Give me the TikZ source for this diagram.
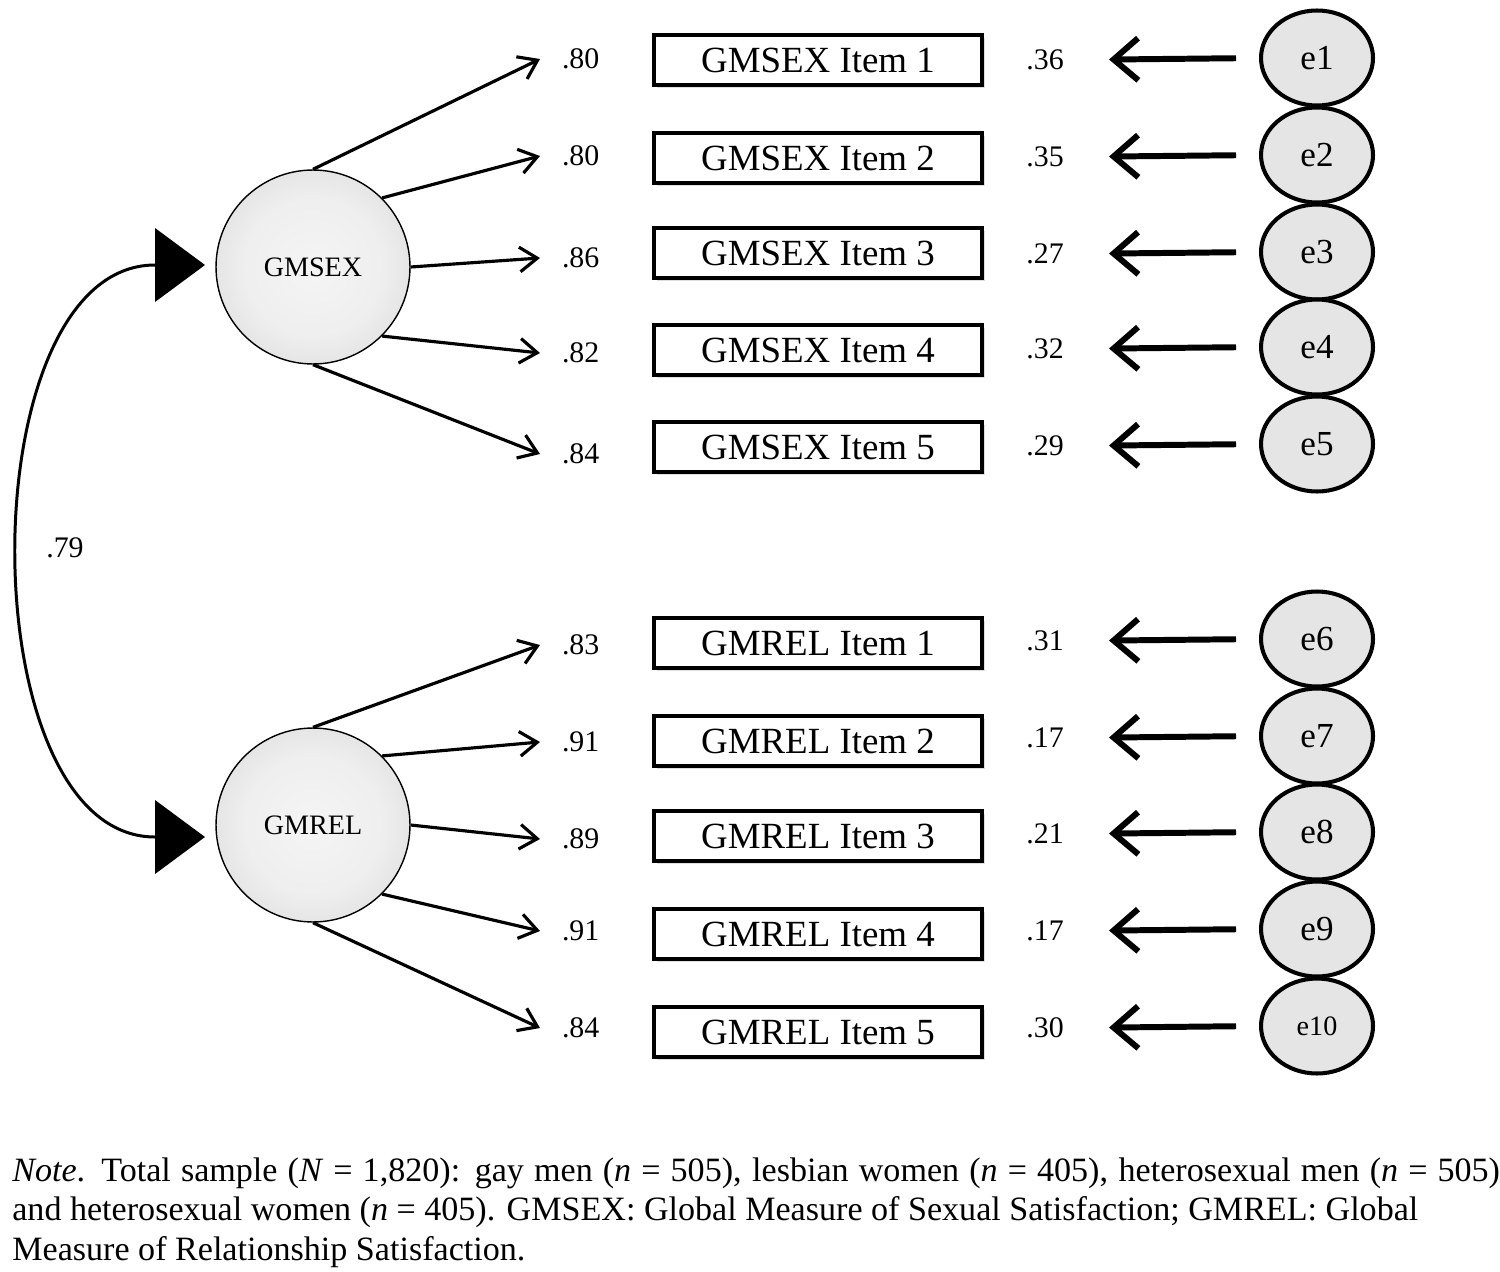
\documentclass[tikz,border=0pt]{standalone}
\usepackage{fontspec}
\setmainfont{Liberation Serif}
\usepackage{tikz}
\usetikzlibrary{positioning}
\usetikzlibrary{shapes.geometric, arrows.meta, shadows}
\pgfdeclareradialshading{latentshade}{\pgfpoint{0bp}{0bp}}{color(0bp)=(gray!8); color(18bp)=(gray!13); color(29bp)=(gray!24); color(35bp)=(gray!42); color(50bp)=(gray!42)}

\begin{document}
\begin{tikzpicture}[x=0.02cm,y=-0.02cm,
        latent/.style = {draw, circle, line width=0.8pt, minimum size=3.88cm, inner sep=0pt, shading=latentshade, font=\fontsize{16}{19}\selectfont},
        item/.style = {draw, line width=2pt, fill=white, minimum width=6.56cm, minimum height=1cm, inner sep=0pt, drop shadow={opacity=0.25, shadow xshift=1.5pt, shadow yshift=-1.5pt}, font=\fontsize{21}{24}\selectfont},
        err/.style = {draw, ellipse, line width=2.3pt, fill=gray!20, minimum width=2.24cm, minimum height=1.9cm, inner sep=0pt, font=\fontsize{20}{24}\selectfont},
        load/.style = {inner sep=0pt, outer xsep=0.44cm, anchor=west, font=\fontsize{17}{20}\selectfont},
        resid/.style = {inner sep=0pt, font=\fontsize{17}{20}\selectfont},
        ld/.style = {-{Straight Barb[length=10pt,width=14pt]}, line width=1.8pt},
        rs/.style = {-{Straight Barb[length=14pt,width=24pt]}, line width=3.4pt, shorten <=0.46cm, shorten >=0.9cm}]
        \useasboundingbox (0,0) rectangle (1500,1271);
        % latent factors
        \node[latent] (sex) at (313,267) {GMSEX};
        \node[latent] (rel) at (313,825) {GMREL};
        % observed items
        \node[item] (s1) at (818,60) {GMSEX Item 1};
        \node[item] (s2) at (818,158) {GMSEX Item 2};
        \node[item] (s3) at (818,253) {GMSEX Item 3};
        \node[item] (s4) at (818,350) {GMSEX Item 4};
        \node[item] (s5) at (818,447) {GMSEX Item 5};
        \node[item] (r1) at (818,643) {GMREL Item 1};
        \node[item] (r2) at (818,741) {GMREL Item 2};
        \node[item] (r3) at (818,836) {GMREL Item 3};
        \node[item] (r4) at (818,934) {GMREL Item 4};
        \node[item] (r5) at (818,1032) {GMREL Item 5};
        % errors
        \node[err] (e1) at (1317,58) {e1};
        \node[err] (e2) at (1317,155) {e2};
        \node[err] (e3) at (1317,252) {e3};
        \node[err] (e4) at (1317,347) {e4};
        \node[err] (e5) at (1317,444) {e5};
        \node[err] (e6) at (1317,639) {e6};
        \node[err] (e7) at (1317,736) {e7};
        \node[err] (e8) at (1317,832) {e8};
        \node[err] (e9) at (1317,929) {e9};
        \node[err,font=\fontsize{16}{19}\selectfont] (e10) at (1317,1026) {e10};
        % loadings
        \node[load] (ls1) at (540,59) {.80};
        \node[load] (ls2) at (540,156) {.80};
        \node[load] (ls3) at (540,258) {.86};
        \node[load] (ls4) at (540,353) {.82};
        \node[load] (ls5) at (540,454) {.84};
        \node[load] (lr1) at (540,645) {.83};
        \node[load] (lr2) at (540,742) {.91};
        \node[load] (lr3) at (540,839) {.89};
        \node[load] (lr4) at (540,931) {.91};
        \node[load] (lr5) at (540,1028) {.84};
        % residual values
        \node[resid] (vs1) at (1045,60) {.36};
        \node[resid] (vs2) at (1045,157) {.35};
        \node[resid] (vs3) at (1045,254) {.27};
        \node[resid] (vs4) at (1045,349) {.32};
        \node[resid] (vs5) at (1045,446) {.29};
        \node[resid] (vr1) at (1045,641) {.31};
        \node[resid] (vr2) at (1045,738) {.17};
        \node[resid] (vr3) at (1045,834) {.21};
        \node[resid] (vr4) at (1045,931) {.17};
        \node[resid] (vr5) at (1045,1028) {.30};
        \path
        (sex.90) edge[ld] (ls1.west)
        (sex.45) edge[ld] (ls2.west)
        (sex.0) edge[ld] (ls3.west)
        (sex.-45) edge[ld] (ls4.west)
        (sex.-90) edge[ld] (ls5.west)
        (rel.90) edge[ld] (lr1.west)
        (rel.45) edge[ld] (lr2.west)
        (rel.0) edge[ld] (lr3.west)
        (rel.-45) edge[ld] (lr4.west)
        (rel.-90) edge[ld] (lr5.west);
        \path
        (e1.west) edge[rs] (vs1.east)
        (e2.west) edge[rs] (vs2.east)
        (e3.west) edge[rs] (vs3.east)
        (e4.west) edge[rs] (vs4.east)
        (e5.west) edge[rs] (vs5.east)
        (e6.west) edge[rs] (vr1.east)
        (e7.west) edge[rs] (vr2.east)
        (e8.west) edge[rs] (vr3.east)
        (e9.west) edge[rs] (vr4.east)
        (e10.west) edge[rs] (vr5.east);
        % correlation
        \coordinate (tsex) at (155,265);
        \coordinate (trel) at (155,837);
        \fill (tsex) ++(0,-37) -- ++(50,37) -- ++(-50,37) -- cycle;
        \fill (trel) ++(0,-37) -- ++(50,37) -- ++(-50,37) -- cycle;
        \draw[line width=1.7pt] (tsex) .. controls +(-187,0) and +(-187,0) .. (trel);
        \node[font=\fontsize{17}{20}\selectfont] (corr) at (65,548) {.79};
        % note
        \node[anchor=north west, inner sep=0pt, text width=29.76cm, align=justify, font=\fontsize{19.4}{22.7}\selectfont] (note) at (12,1157) {\textit{Note}. Total sample (\textit{N} = 1,820): gay men (\textit{n} = 505), lesbian women (\textit{n} = 405), heterosexual men (\textit{n} = 505)\linebreak and heterosexual women (\textit{n} = 405). GMSEX: Global Measure of Sexual Satisfaction; GMREL: Global\\ Measure of Relationship Satisfaction.};
      \end{tikzpicture}
\end{document}
